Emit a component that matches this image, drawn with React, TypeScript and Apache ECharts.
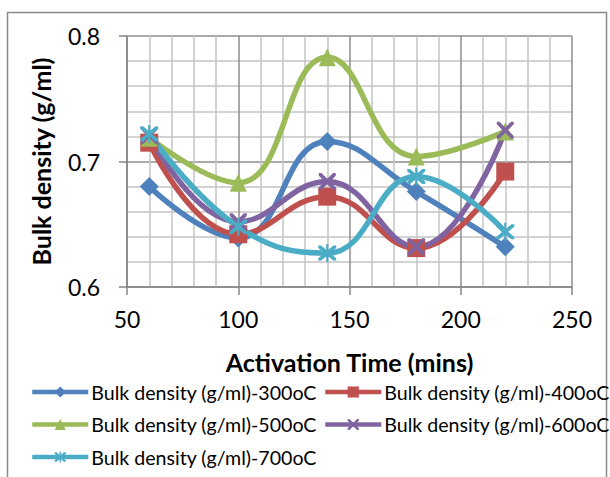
import React, { useEffect, useRef } from "react";
import * as echarts from "echarts";

const times = [60, 100, 140, 180, 220];
const s300 = [0.68, 0.639, 0.716, 0.676, 0.632];
const s400 = [0.715, 0.642, 0.672, 0.631, 0.692];
const s500 = [0.719, 0.683, 0.783, 0.704, 0.724];
const s600 = [0.721, 0.652, 0.684, 0.632, 0.725];
const s700 = [0.722, 0.648, 0.627, 0.688, 0.644];
const seriesNames = [
  "Bulk density (g/ml)-300oC",
  "Bulk density (g/ml)-400oC",
  "Bulk density (g/ml)-500oC",
  "Bulk density (g/ml)-600oC",
  "Bulk density (g/ml)-700oC",
];
const colors = ["#4F81BD", "#C0504D", "#9BBB59", "#8064A2", "#4BACC6"];
const xTitle = "Activation Time (mins)";
const yTitle = "Bulk density (g/ml)";

const xPath =
  "path://M0,0 L1.6,0 L5,3.4 L8.4,0 L10,0 L10,1.6 L6.6,5 L10,8.4 L10,10 L8.4,10 L5,6.6 L1.6,10 L0,10 L0,8.4 L3.4,5 L0,1.6 Z";
const starPath =
  "path://M0,0 L1.6,0 L5,3.4 L8.4,0 L10,0 L10,1.6 L6.6,5 L10,8.4 L10,10 L8.4,10 L5,6.6 L1.6,10 L0,10 L0,8.4 L3.4,5 L0,1.6 Z M4.4,-1 L5.6,-1 L5.6,11 L4.4,11 Z";

export default function App() {
  const ref = useRef<HTMLDivElement>(null);
  useEffect(() => {
    if (!ref.current) return;
    const chart = echarts.init(ref.current, null, { renderer: "svg" });
    const datas = [s300, s400, s500, s600, s700];
    const symbols = ["diamond", "rect", "triangle", xPath, starPath];
    const sizes: any[] = [19, 18, [17, 18], 17, 18];
    const font = "Lato, 'Open Sans', sans-serif";
    const legendBase = {
      orient: "vertical",
      itemWidth: 56,
      itemHeight: 14,
      itemGap: 12.5,
      lineStyle: { width: 4.5 },
      textStyle: { fontFamily: font, fontSize: 19.6, color: "#000", padding: [0, 0, 0, -2] },
    };
    chart.setOption({
      animation: false,
      color: colors,
      graphic: [
        {
          type: "rect",
          shape: { x: 7.5, y: 12.5, width: 599, height: 480 },
          style: { fill: "#fff", stroke: "#8a8a8a", lineWidth: 1.5 },
          z: -10,
        },
      ],
      grid: { left: 127, right: 38, top: 36, bottom: 190 },
      xAxis: {
        type: "value",
        min: 50,
        max: 250,
        interval: 50,
        name: xTitle,
        nameLocation: "middle",
        nameGap: 62,
        nameTextStyle: { fontFamily: font, fontSize: 25, fontWeight: "bold", color: "#000" },
        axisLine: { show: true, lineStyle: { color: "#868686", width: 1.5 } },
        axisTick: { show: true, length: 8, lineStyle: { color: "#868686", width: 1.5 } },
        axisLabel: { fontFamily: font, fontSize: 23, color: "#000", margin: 20 },
        splitLine: { show: true, lineStyle: { color: "#8c8c8c", width: 1.5 } },
        minorTick: { show: false, splitNumber: 5 },
        minorSplitLine: { show: true, lineStyle: { color: "#c4c4c4", width: 1.5 } },
      },
      yAxis: {
        type: "value",
        min: 0.6,
        max: 0.8,
        interval: 0.1,
        name: yTitle,
        nameLocation: "middle",
        nameGap: 74,
        nameTextStyle: { fontFamily: font, fontSize: 25, fontWeight: "bold", color: "#000" },
        axisLine: { show: true, lineStyle: { color: "#868686", width: 1.5 } },
        axisTick: { show: true, length: 8, lineStyle: { color: "#868686", width: 1.5 } },
        axisLabel: { fontFamily: font, fontSize: 23, color: "#000", margin: 27, formatter: (v: number) => v.toFixed(1) },
        splitLine: { show: true, lineStyle: { color: "#8c8c8c", width: 1.5 } },
        minorTick: { show: false, splitNumber: 5 },
        minorSplitLine: { show: true, lineStyle: { color: "#c4c4c4", width: 1.5 } },
      },
      legend: [
        { ...legendBase, left: 25, top: 377, data: [seriesNames[0], seriesNames[2], seriesNames[4]] },
        { ...legendBase, left: 318, top: 377, data: [seriesNames[1], seriesNames[3]] },
      ],
      series: datas.map((d, i) => ({
        name: seriesNames[i],
        type: "line",
        smooth: 0.45,
        data: times.map((t, j) => [t, d[j]]),
        symbol: symbols[i],
        symbolSize: sizes[i],
        lineStyle: { width: 5.5, color: colors[i] },
        itemStyle: { color: colors[i], borderWidth: 0 },
      })),
    });
    return () => chart.dispose();
  }, []);
  return (
    <div
      ref={ref}
      style={{ position: "fixed", left: 0, top: 0, width: 610, height: 477, background: "#fff" }}
    />
  );
}
